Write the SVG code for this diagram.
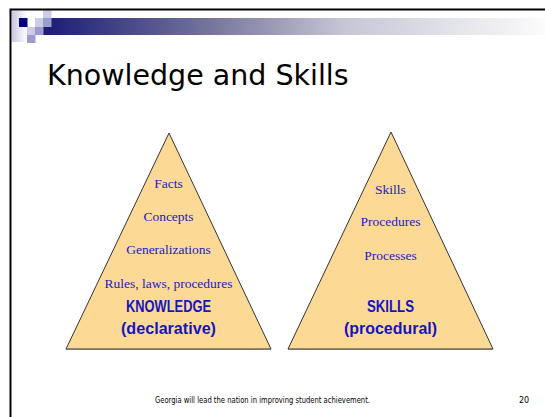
<svg xmlns="http://www.w3.org/2000/svg" width="545" height="417" viewBox="0 0 545 417">
<defs>
<linearGradient id="bar" x1="0" y1="0" x2="1" y2="0">
<stop offset="0" stop-color="#1a1a78"/>
<stop offset="0.35" stop-color="#7a7a9e"/>
<stop offset="0.6" stop-color="#c6c6d6"/>
<stop offset="1" stop-color="#fbfbfb"/>
</linearGradient>
<linearGradient id="strip" x1="0" y1="0" x2="1" y2="0">
<stop offset="0" stop-color="#c8c8e4"/>
<stop offset="1" stop-color="#ffffff"/>
</linearGradient>
<style>
.tri{fill:#fdd996;stroke:#333;stroke-width:1}
.item{font-family:"Liberation Serif","Times New Roman",serif;font-size:13.5px;fill:#2020c8;text-anchor:middle}
.big{font-family:"Liberation Sans Narrow","Arial Narrow","Liberation Sans",sans-serif;font-weight:bold;font-size:17px;fill:#1515c0;text-anchor:middle}
</style>
</defs>
<rect width="545" height="417" fill="#fff"/>
<g id="header">
<rect x="12" y="11" width="15" height="31" fill="url(#strip)"/>
<rect x="43" y="18" width="502" height="17" fill="url(#bar)"/>
<rect x="19" y="18" width="8.5" height="9" fill="#000080"/>
<rect x="35" y="18" width="8.5" height="9" fill="#ccccea"/>
<rect x="43" y="10" width="8.5" height="8" fill="#ccccea"/>
<rect x="43" y="18" width="8.5" height="9" fill="#9c9ccf"/>
<rect x="27" y="27" width="8.5" height="8" fill="#ccccea"/>
<rect x="35" y="27" width="8.5" height="8" fill="#9c9ccf"/>
<rect x="27" y="35" width="8.5" height="8" fill="#9c9ccf"/>
<path d="M10.5 417 V9.5 H545" fill="none" stroke="#000" stroke-width="2"/>
</g>
<text id="title" x="47" y="85" font-family="DejaVu Sans, Verdana, sans-serif" font-size="28.5" fill="#000">Knowledge and Skills</text>
<g id="knowledge">
<polygon class="tri" points="169,133 271,349 66,349"/>
<line x1="66" y1="349.5" x2="271" y2="349.5" stroke="#777" stroke-width="1"/>
<text class="item" x="168.5" y="188">Facts</text>
<text class="item" x="168.5" y="221">Concepts</text>
<text class="item" x="168.5" y="254">Generalizations</text>
<text class="item" x="168.5" y="288">Rules, laws, procedures</text>
<text class="big" x="168.5" y="312" textLength="85" lengthAdjust="spacingAndGlyphs">KNOWLEDGE</text>
<text class="big" x="168.5" y="334" textLength="95" lengthAdjust="spacingAndGlyphs">(declarative)</text>
</g>
<g id="skills">
<polygon class="tri" points="391,132 493,349 288,349"/>
<line x1="288" y1="349.5" x2="493" y2="349.5" stroke="#777" stroke-width="1"/>
<text class="item" x="390.5" y="194">Skills</text>
<text class="item" x="390.5" y="226">Procedures</text>
<text class="item" x="390.5" y="260">Processes</text>
<text class="big" x="390.5" y="312" textLength="47" lengthAdjust="spacingAndGlyphs">SKILLS</text>
<text class="big" x="390.5" y="334" textLength="93" lengthAdjust="spacingAndGlyphs">(procedural)</text>
</g>
<g id="footer" font-family="DejaVu Sans, Tahoma, sans-serif" font-size="8" fill="#000">
<text x="155" y="403" textLength="215" lengthAdjust="spacingAndGlyphs">Georgia will lead the nation in improving student achievement.</text>
<text x="519" y="403">20</text>
</g>
</svg>
